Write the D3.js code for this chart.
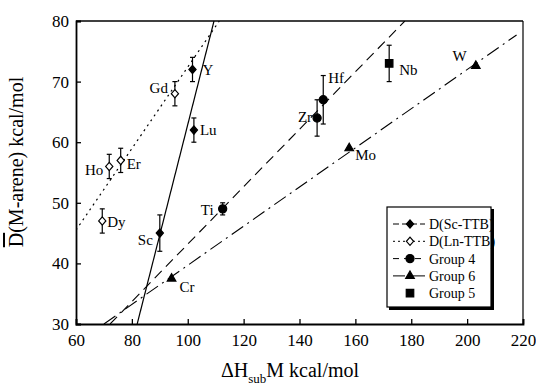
<!DOCTYPE html>
<html>
<head>
<meta charset="utf-8">
<script src="https://cdn.jsdelivr.net/npm/d3@7"></script>
</head>
<body style="margin:0; background:#fff">
<svg id="chart" width="536" height="386" font-family="Liberation Serif"></svg>
<script>
// D(Sc-TTB)
const scNames = ["Y", "Lu", "Sc"];
const scX = [101.7, 102.2, 90];
const scY = [72, 62, 45];
const scErr = [2, 2, 3];

// D(Ln-TTB)
const lnNames = ["Gd", "Ho", "Er", "Dy"];
const lnX = [95.4, 71.9, 76, 69.4];
const lnY = [68, 56, 57, 47];
const lnErr = [2, 2, 2, 2];

// Group 4
const g4Names = ["Ti", "Zr", "Hf"];
const g4X = [112.5, 146.3, 148.5];
const g4Y = [49, 64, 67];
const g4Err = [1, 3, 4];

// Group 6
const g6Names = ["Cr", "Mo", "W"];
const g6X = [94.2, 157.8, 203.1];
const g6Y = [37.5, 59, 72.6];

// Group 5
const g5Names = ["Nb"];
const g5X = [172.1];
const g5Y = [73];
const g5Err = [3];

// fit lines (end points)
const fitSc = [[81.9, 30], [109.4, 80]];
const fitLn = [[60, 45.5], [111.3, 80]];
const fitG4 = [[72.2, 30], [177.7, 80]];
const fitG6 = [[70, 30], [217.7, 77.7]];

const xTicks = [60, 80, 100, 120, 140, 160, 180, 200, 220];
const yTicks = [30, 40, 50, 60, 70, 80];

const mLeft = 76, mRight = 523, mTop = 21, mBottom = 324;
const serif = "Liberation Serif";

const svg = d3.select("#chart");

const x = d3.scaleLinear().domain([60, 220]).range([mLeft, mRight]);
const y = d3.scaleLinear().domain([30, 80]).range([mBottom, mTop]);

// fit lines, clipped to plot
svg.append("clipPath").attr("id", "plot")
    .append("rect").attr("x", mLeft).attr("y", mTop)
    .attr("width", mRight - mLeft).attr("height", mBottom - mTop);

const line = d3.line().x(d => x(d[0])).y(d => y(d[1]));
const fits = [
    [fitSc, null, 1.2],
    [fitLn, "2,4", 1.2],
    [fitG4, "10,6", 1.1],
    [fitG6, "14,5,2,5", 1.1]
];
fits.forEach(f => {
    svg.append("path")
        .attr("clip-path", "url(#plot)")
        .attr("d", line(f[0]))
        .attr("fill", "none")
        .attr("stroke", "#000")
        .attr("stroke-width", f[2])
        .attr("stroke-dasharray", f[1]);
});

// axes
const xAxis = svg.append("g").attr("transform", `translate(0,${mBottom})`)
    .call(d3.axisBottom(x).tickValues(xTicks).tickSize(-5).tickPadding(10));
const yAxis = svg.append("g").attr("transform", `translate(${mLeft},0)`)
    .call(d3.axisLeft(y).tickValues(yTicks).tickSize(-5).tickPadding(7));
[xAxis, yAxis].forEach(a => a.attr("font-size", 17).attr("font-family", serif));
svg.selectAll(".domain").attr("stroke-width", 1.8);
svg.selectAll(".tick line").attr("stroke-width", 1.3);

svg.append("line").attr("x1", mLeft).attr("x2", mRight).attr("y1", mTop).attr("y2", mTop)
    .attr("stroke", "#000").attr("stroke-width", 1.5);
svg.append("line").attr("x1", mRight).attr("x2", mRight).attr("y1", mTop).attr("y2", mBottom)
    .attr("stroke", "#000").attr("stroke-width", 1.2);

// symbols
const rhomb = {
    draw(ctx, size) {
        const w = Math.sqrt(size) / 2, h = w * 1.15;
        ctx.moveTo(0, -h); ctx.lineTo(w, 0); ctx.lineTo(0, h); ctx.lineTo(-w, 0); ctx.closePath();
    }
};
const diamond = d3.symbol().type(rhomb).size(52);
const circle = d3.symbol().type(d3.symbolCircle).size(52);
const tri = d3.symbol().type(d3.symbolTriangle).size(32);
const square = d3.symbol().type(d3.symbolSquare).size(56);

function errBars(xs, ys, es) {
    xs.forEach((v, i) => {
        if (!es[i]) return;
        const px = x(v), y0 = y(ys[i] - es[i]), y1 = y(ys[i] + es[i]);
        const g = svg.append("g").attr("stroke", "#000").attr("stroke-width", 1.2);
        g.append("line").attr("x1", px).attr("x2", px).attr("y1", y0).attr("y2", y1);
        g.append("line").attr("x1", px - 2.5).attr("x2", px + 2.5).attr("y1", y0).attr("y2", y0);
        g.append("line").attr("x1", px - 2.5).attr("x2", px + 2.5).attr("y1", y1).attr("y2", y1);
    });
}

function points(xs, ys, sym, fill) {
    xs.forEach((v, i) => {
        svg.append("path")
            .attr("d", sym())
            .attr("transform", `translate(${x(v)},${y(ys[i])})`)
            .attr("fill", fill)
            .attr("stroke", "#000")
            .attr("stroke-width", 1.2);
    });
}

errBars(scX, scY, scErr);
errBars(lnX, lnY, lnErr);
errBars(g4X, g4Y, g4Err);
errBars(g5X, g5Y, g5Err);

points(scX, scY, diamond, "#000");
points(lnX, lnY, diamond, "#fff");
points(g4X, g4Y, circle, "#000");
points(g6X, g6Y, tri, "#000");
points(g5X, g5Y, square, "#000");

// point labels: [dx, dy, anchor]
const labOff = {
    Y: [10, 6, "start"], Lu: [6, 5, "start"], Sc: [-7, 12, "end"],
    Gd: [-7, -1, "end"], Ho: [-6, 9, "end"], Er: [6, 9, "start"], Dy: [5, 6, "start"],
    Ti: [-9, 6, "end"], Zr: [-5, 4, "end"], Hf: [5, -17, "start"],
    Cr: [8, 13, "start"], Mo: [6, 12, "start"], W: [-9, -5, "end"], Nb: [10, 12, "start"]
};
function labels(names, xs, ys) {
    names.forEach((n, i) => {
        const o = labOff[n];
        svg.append("text")
            .attr("x", x(xs[i]) + o[0]).attr("y", y(ys[i]) + o[1])
            .attr("text-anchor", o[2]).attr("font-size", 15)
            .attr("font-family", serif)
            .text(n);
    });
}
labels(scNames, scX, scY);
labels(lnNames, lnX, lnY);
labels(g4Names, g4X, g4Y);
labels(g6Names, g6X, g6Y);
labels(g5Names, g5X, g5Y);

// legend
const lg = svg.append("g").attr("transform", "translate(387,207)").attr("font-family", serif);
lg.append("rect").attr("x", 2).attr("y", 2).attr("width", 105).attr("height", 101).attr("fill", "#000");
lg.append("rect").attr("width", 104).attr("height", 100).attr("fill", "#fff")
    .attr("stroke", "#000").attr("stroke-width", 1.2);

const legNames = ["D(Sc-TTB)", "D(Ln-TTB)", "Group 4", "Group 6", "Group 5"];
const legSyms = [diamond, diamond, circle, tri, square];
const legFill = ["#000", "#fff", "#000", "#000", "#000"];
const legDash = ["6,3", "2,3", "6,5", "12,3,2,3", null];
legNames.forEach((n, i) => {
    const cy = 17 + i * 17.3;
    if (legDash[i]) {
        lg.append("line").attr("x1", 6).attr("x2", 38).attr("y1", cy).attr("y2", cy)
            .attr("stroke", "#000").attr("stroke-width", 1)
            .attr("stroke-dasharray", legDash[i]);
    }
    lg.append("path").attr("d", legSyms[i]())
        .attr("transform", `translate(23,${cy})`)
        .attr("fill", legFill[i]).attr("stroke", "#000").attr("stroke-width", 1.2);
    lg.append("text").attr("x", 42).attr("y", cy + 5).attr("font-size", 14)
        .attr("font-family", serif).text(n);
});

// axis titles
const xt = svg.append("text").attr("x", 290).attr("y", 377)
    .attr("text-anchor", "middle").attr("font-size", 20).attr("font-family", serif);
xt.append("tspan").text("\u0394H");
xt.append("tspan").attr("font-size", 13).attr("dy", 6).text("sub");
xt.append("tspan").attr("dy", -6).text("M kcal/mol");

const yt = svg.append("text")
    .attr("transform", "translate(23,162) rotate(-90)")
    .attr("text-anchor", "middle").attr("font-size", 20).attr("font-family", serif);
yt.append("tspan").style("text-decoration", "overline").text("D");
yt.append("tspan").text("(M-arene) kcal/mol");
</script>
</body>
</html>
